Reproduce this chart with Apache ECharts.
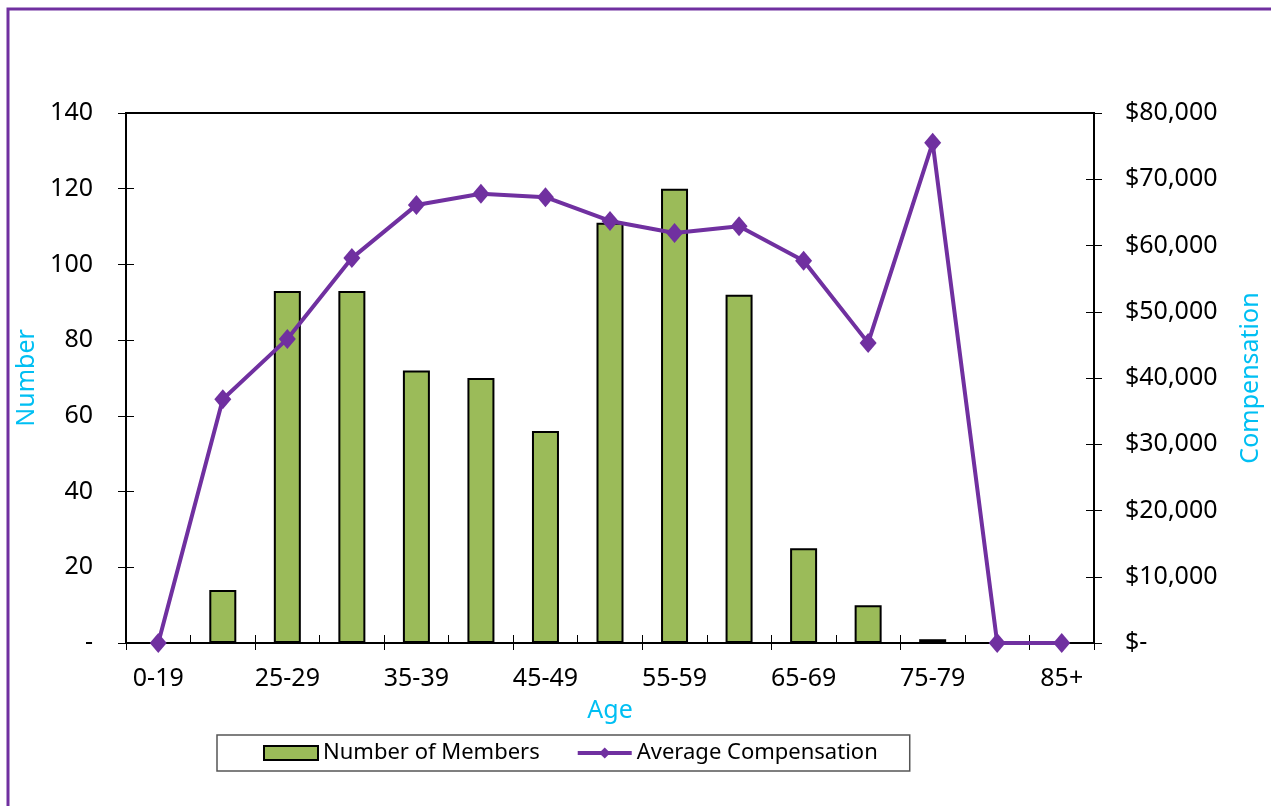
<!DOCTYPE html>
<html>
<head>
<meta charset="utf-8">
<script src="https://cdn.jsdelivr.net/npm/echarts@6/dist/echarts.min.js"></script>
<style>
  html, body { margin: 0; padding: 0; background: #fff; }
  #chart { width: 1271px; height: 806px; }
</style>
</head>
<body>
<div id="chart"></div>
<script>
// age bands
const ageGroups = ['0-19', '20-24', '25-29', '30-34', '35-39', '40-44', '45-49', '50-54',
  '55-59', '60-64', '65-69', '70-74', '75-79', '80-84', '85+'];
// number of members per band
const memberCounts = [0, 14, 93, 93, 72, 70, 56, 111, 120, 92, 25, 10, 1, 0, 0];
// average compensation per band
const avgComp = [0, 36800, 45900, 58100, 66100, 67800, 67300, 63700, 61900, 62900, 57700, 45300, 75500, 0, 0];

const FONT = 'Noto Sans';
const chart = echarts.init(document.getElementById('chart'));

const option = {
  animation: false,
  textStyle: { fontFamily: FONT },
  graphic: [{
    type: 'rect',
    shape: { x: 8, y: 9, width: 1290, height: 830 },
    style: { fill: 'none', stroke: '#7030A0', lineWidth: 3 }
  }],
  grid: {
    left: 126, right: 176, top: 113, bottom: 163,
    show: true, borderColor: '#000', borderWidth: 2
  },
  legend: {
    bottom: 35,
    left: 217,
    padding: [7, 32, 7, 46],
    borderColor: '#555',
    borderWidth: 1.5,
    borderRadius: 0,
    itemWidth: 54,
    itemHeight: 14,
    itemGap: 36,
    textStyle: { fontSize: 22, color: '#000', fontFamily: FONT },
    data: [
      { name: 'Number of Members', icon: 'rect' },
      { name: 'Average Compensation', lineStyle: { width: 4 } }
    ]
  },
  xAxis: [{
    type: 'category',
    data: ageGroups,
    name: 'Age',
    nameLocation: 'middle',
    nameGap: 55,
    nameTextStyle: { color: '#00BFF3', fontSize: 25 },
    axisLine: { lineStyle: { color: '#000', width: 2 } },
    axisTick: { show: true, length: 7, lineStyle: { color: '#000' } },
    axisLabel: { interval: 1, color: '#000', fontSize: 25, margin: 23 }
  }, {
    type: 'category',
    data: ageGroups,
    position: 'bottom',
    axisLine: { show: false },
    axisTick: { show: true, inside: true, length: 8, lineStyle: { color: '#000' } },
    axisLabel: { show: false }
  }],
  yAxis: [{
    type: 'value',
    min: 0, max: 140, interval: 20,
    name: 'Number',
    nameLocation: 'middle',
    nameRotate: 90,
    nameGap: 82,
    nameTextStyle: { color: '#00BFF3', fontSize: 25 },
    splitLine: { show: false },
    axisLine: { show: true, lineStyle: { color: '#000', width: 2 } },
    axisTick: { show: true, length: 8, lineStyle: { color: '#000' } },
    axisLabel: {
      color: '#000', fontSize: 25, margin: 33,
      formatter: v => v === 0 ? '-' : String(v)
    }
  }, {
    type: 'value',
    position: 'right',
    min: 0, max: 80000, interval: 10000,
    name: 'Compensation',
    nameLocation: 'middle',
    nameRotate: 90,
    nameGap: 144,
    nameTextStyle: { color: '#00BFF3', fontSize: 25 },
    splitLine: { show: false },
    axisLine: { show: true, lineStyle: { color: '#000', width: 2 } },
    axisTick: { show: true, length: 8, lineStyle: { color: '#000' } },
    axisLabel: {
      color: '#000', fontSize: 25, margin: 31,
      formatter: v => v === 0 ? '$-' : '$' + v.toLocaleString('en-US')
    }
  }, {
    type: 'value',
    min: 0, max: 140, interval: 20,
    position: 'left',
    splitLine: { show: false },
    axisLine: { show: false },
    axisTick: { show: true, inside: true, length: 8, lineStyle: { color: '#000' } },
    axisLabel: { show: false }
  }, {
    type: 'value',
    position: 'right',
    min: 0, max: 80000, interval: 10000,
    splitLine: { show: false },
    axisLine: { show: false },
    axisTick: { show: true, inside: true, length: 8, lineStyle: { color: '#000' } },
    axisLabel: { show: false }
  }],
  series: [{
    name: 'Number of Members',
    type: 'bar',
    xAxisIndex: 0,
    yAxisIndex: 0,
    data: memberCounts,
    barWidth: 27,
    itemStyle: { color: '#9BBB59', borderColor: '#000', borderWidth: 2 }
  }, {
    name: 'Average Compensation',
    type: 'line',
    xAxisIndex: 0,
    yAxisIndex: 1,
    data: avgComp,
    symbol: 'diamond',
    symbolSize: [17, 20],
    lineStyle: { color: '#7030A0', width: 4 },
    itemStyle: { color: '#7030A0' },
    z: 5
  }]
};

chart.setOption(option);
</script>
</body>
</html>
